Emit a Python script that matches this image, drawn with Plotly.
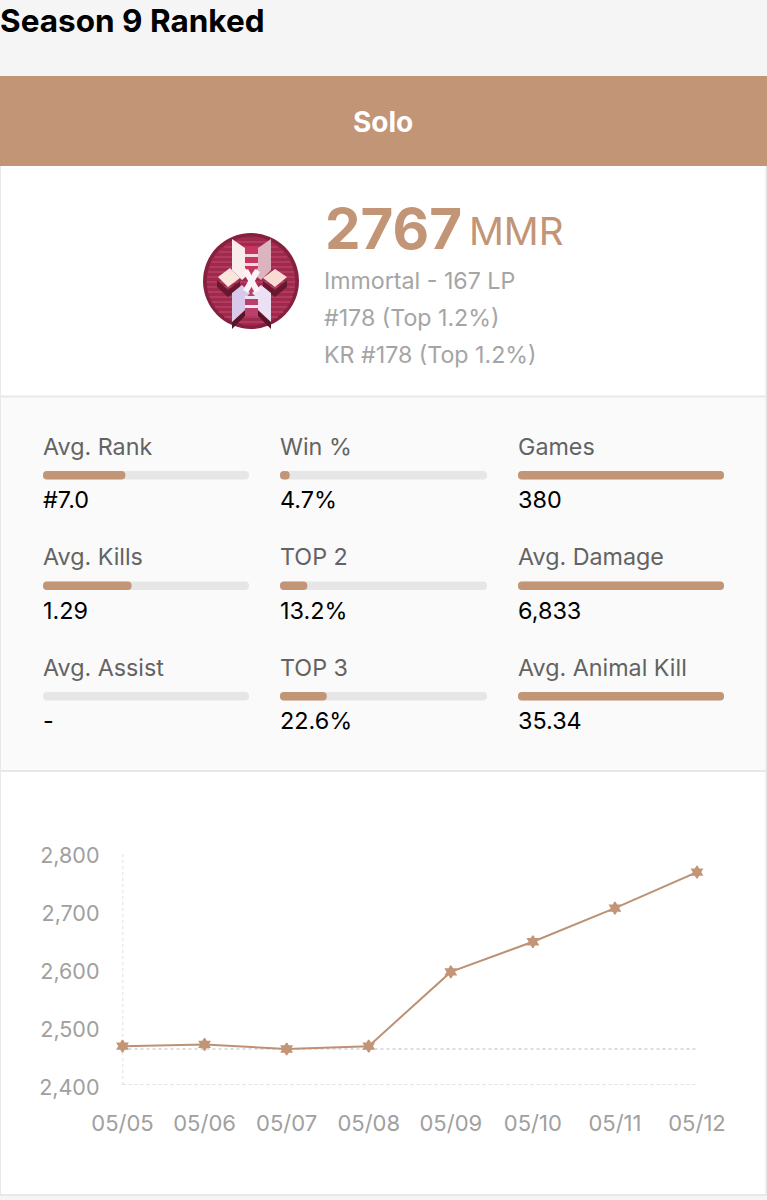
import math
import plotly.graph_objects as go

W, H = 767, 1200
TAN = "#c29576"

# line chart data
dates = ["05/05", "05/06", "05/07", "05/08", "05/09", "05/10", "05/11", "05/12"]
mmr = [2467, 2470, 2462, 2467, 2595, 2647, 2705, 2767]
mmr_ticks = [2400, 2500, 2600, 2700, 2800]
mmr_labels = ["2,400", "2,500", "2,600", "2,700", "2,800"]
low_line = 2462

# stat blocks, one list per column, top row first
col1_names = ["Avg. Rank", "Avg. Kills", "Avg. Assist"]
col1_text = ["#7.0", "1.29", "-"]
col1_fill = [40, 43, 0]
col2_names = ["Win %", "TOP 2", "TOP 3"]
col2_text = ["4.7%", "13.2%", "22.6%"]
col2_fill = [4.7, 13.2, 22.6]
col3_names = ["Games", "Avg. Damage", "Avg. Animal Kill"]
col3_text = ["380", "6,833", "35.34"]
col3_fill = [100, 100, 100]
rows = ["r1", "r2", "r3"]
full = [100, 100, 100]


def px(x):
    return x / W


def py(y):
    return 1 - y / H


def rect(x0, y0, x1, y1, fill):
    return dict(type="rect", xref="paper", yref="paper", x0=px(x0), x1=px(x1), y0=py(y0), y1=py(y1),
                fillcolor=fill, line=dict(width=0), layer="below")


def label(x, y, text, size, color, weight=400, anchor="left"):
    return dict(xref="paper", yref="paper", x=px(x), y=py(y), text=text, showarrow=False,
                xanchor=anchor, yanchor="middle", borderpad=0, align=anchor,
                font=dict(family="Inter", size=size, color=color, weight=weight))


def poly(points, fill):
    d = "M " + " L ".join(f"{px(x):.5f},{py(y):.5f}" for x, y in points) + " Z"
    return dict(type="path", xref="paper", yref="paper", path=d, fillcolor=fill, line=dict(width=0))


def circle(cx, cy, r, fill):
    return dict(type="circle", xref="paper", yref="paper", x0=px(cx - r), x1=px(cx + r),
                y0=py(cy + r), y1=py(cy - r), fillcolor=fill, line=dict(width=0))


def add_pill(axis, values, color):
    # an explicit base makes plotly round both ends of the bar
    fig.add_trace(go.Bar(y=rows, x=values, base=[0, 0, 0], orientation="h", xaxis=axis, yaxis="y2",
                         width=0.075, marker=dict(color=color, line=dict(width=0)), showlegend=False))


fig = go.Figure()

fig.add_trace(go.Scatter(x=dates, y=mmr, mode="lines+markers", xaxis="x", yaxis="y", cliponaxis=False,
                         line=dict(color="#bd9174", width=2),
                         marker=dict(symbol="hexagram", size=9, color=TAN, line=dict(width=1.5, color=TAN)),
                         showlegend=False))

for axis, fill in [("x2", col1_fill), ("x3", col2_fill), ("x4", col3_fill)]:
    add_pill(axis, full, "#e6e6e6")
    add_pill(axis, fill, TAN)

shapes = [
    rect(0, 76, W, 166, TAN),
    rect(0, 166, W, 397, "#ffffff"),
    rect(0, 397, W, 771, "#fafafa"),
    rect(0, 771, W, 1195, "#ffffff"),
    rect(0, 395.5, W, 397.5, "#e8e8e8"),
    rect(0, 770, W, 772, "#e8e8e8"),
    rect(0, 1194, W, 1196, "#e8e8e8"),
    rect(0, 166, 1, 1195, "#e8e8e8"),
    rect(765.5, 166, W, 1195, "#e8e8e8"),
    # dotted guides of the line chart
    dict(type="line", xref="x", yref="y", x0=dates[0], x1=dates[0], y0=mmr_ticks[0], y1=mmr_ticks[-1],
         line=dict(color="#d4d4d4", width=1.5, dash="dot"), layer="below"),
    dict(type="line", xref="x", yref="y", x0=dates[0], x1=dates[-1], y0=mmr_ticks[0], y1=mmr_ticks[0],
         line=dict(color="#d4d4d4", width=1.5, dash="dot"), layer="below"),
    dict(type="line", xref="x", yref="y", x0=dates[0], x1=dates[-1], y0=low_line, y1=low_line,
         line=dict(color="#d4d4d4", width=1.5, dash="dot"), layer="below"),
]

# rank badge
shapes += [circle(251, 281, 48, "#86203f"), circle(251, 281, 44.5, "#a02a4e")]
for yy in range(241, 324, 5):
    half = math.sqrt(44 ** 2 - (yy - 281) ** 2)
    shapes.append(poly([(251 - half, yy), (251 + half, yy), (251 + half, yy + 2), (251 - half, yy + 2)], "#b23a5e"))
shapes += [
    poly([(244, 246), (258, 246), (258, 275), (244, 275)], "#c8365f"),
    poly([(244, 287), (258, 287), (258, 316), (244, 316)], "#b8406a"),
    poly([(217, 280), (228, 290), (240, 281), (240, 288), (228, 297), (217, 287)], "#651830"),
    poly([(263, 281), (275, 290), (287, 280), (287, 287), (275, 297), (263, 288)], "#651830"),
    poly([(232, 322), (245, 310), (245, 316), (232, 329)], "#581429"),
    poly([(271, 322), (258, 310), (258, 316), (271, 329)], "#581429"),
    poly([(232, 239), (245, 248), (245, 268), (250, 273), (242, 280), (232, 270)], "#f8ecec"),
    poly([(271, 239), (258, 248), (258, 268), (252, 273), (261, 280), (271, 270)], "#dcb4c0"),
    poly([(242, 285), (250, 293), (245, 299), (245, 310), (232, 322), (232, 293)], "#d8c8ea"),
    poly([(261, 285), (252, 293), (258, 299), (258, 310), (271, 322), (271, 293)], "#ece0f4"),
    poly([(218, 277), (230, 268), (240, 278), (228, 287)], "#f8e6dc"),
    poly([(263, 278), (275, 269), (287, 277), (275, 287)], "#f8dcd4"),
    poly([(243, 272), (248, 269), (260, 290), (255, 293)], "#fbf3f5"),
    poly([(260, 272), (255, 269), (243, 290), (248, 293)], "#fbf3f5"),
    poly([(245, 254), (258, 254), (258, 257), (245, 257)], "#f3d9df"),
    poly([(245, 263), (258, 263), (258, 266), (245, 266)], "#f3d9df"),
    poly([(245, 296), (258, 296), (258, 299), (245, 299)], "#efe4f4"),
    poly([(245, 305), (258, 305), (258, 308), (245, 308)], "#efe4f4"),
]

annotations = [
    label(-1, 20.5, "Season 9 Ranked", 31.5, "#000000", 700),
    label(383, 122, "Solo", 28, "#ffffff", 700, "center"),
    label(323.5, 229, "2767", 56.5, TAN, 700),
    label(468, 231, "MMR", 38.6, TAN),
    label(323, 281, "Immortal - 167 LP", 23.2, "#a5a5a5"),
    label(323, 318, "#178 (Top 1.2%)", 23.2, "#a5a5a5"),
    label(323, 355, "KR #178 (Top 1.2%)", 23.2, "#a5a5a5"),
]
for x0, names, text in [(42, col1_names, col1_text), (279, col2_names, col2_text), (517, col3_names, col3_text)]:
    for i in range(3):
        annotations.append(label(x0, 446.5 + i * 110.5, names[i], 23.3, "#636363"))
        annotations.append(label(x0, 499.5 + i * 110.5, text[i], 23.4, "#000000"))

hidden = dict(visible=False, range=[0, 100], anchor="y2", automargin=False)
fig.update_layout(
    width=W, height=H, margin=dict(l=0, r=0, t=0, b=0), autosize=False,
    paper_bgcolor="#f5f5f5", plot_bgcolor="rgba(0,0,0,0)",
    barmode="overlay", barcornerradius=4,
    shapes=shapes, annotations=annotations,
    xaxis=dict(domain=[px(122.5), px(697)], range=[0, 7], type="category", categoryorder="array",
               categoryarray=dates, showgrid=False, zeroline=False, showline=False, ticks="", automargin=False,
               ticklabelstandoff=23, tickfont=dict(family="Inter", size=22, color="#a0a0a0"), anchor="y"),
    yaxis=dict(domain=[py(1085), py(853)], range=[2400, 2800], tickvals=mmr_ticks, ticktext=mmr_labels,
               showgrid=False, zeroline=False, showline=False, ticks="", ticklabelstandoff=22, automargin=False,
               ticklabelshift=2, tickfont=dict(family="Inter", size=21.5, color="#a0a0a0"), anchor="x"),
    xaxis2=dict(domain=[px(43), px(249)], **hidden),
    xaxis3=dict(domain=[px(280), px(487)], **hidden),
    xaxis4=dict(domain=[px(518), px(724)], **hidden),
    yaxis2=dict(domain=[py(751.5), py(420)], range=[2.5, -0.5], type="category", categoryorder="array",
                categoryarray=rows, visible=False, anchor="x2", automargin=False),
)

fig.write_html("out.html", config=dict(displayModeBar=False),
               post_script="document.body.style.margin='0';document.body.style.overflow='hidden';")
